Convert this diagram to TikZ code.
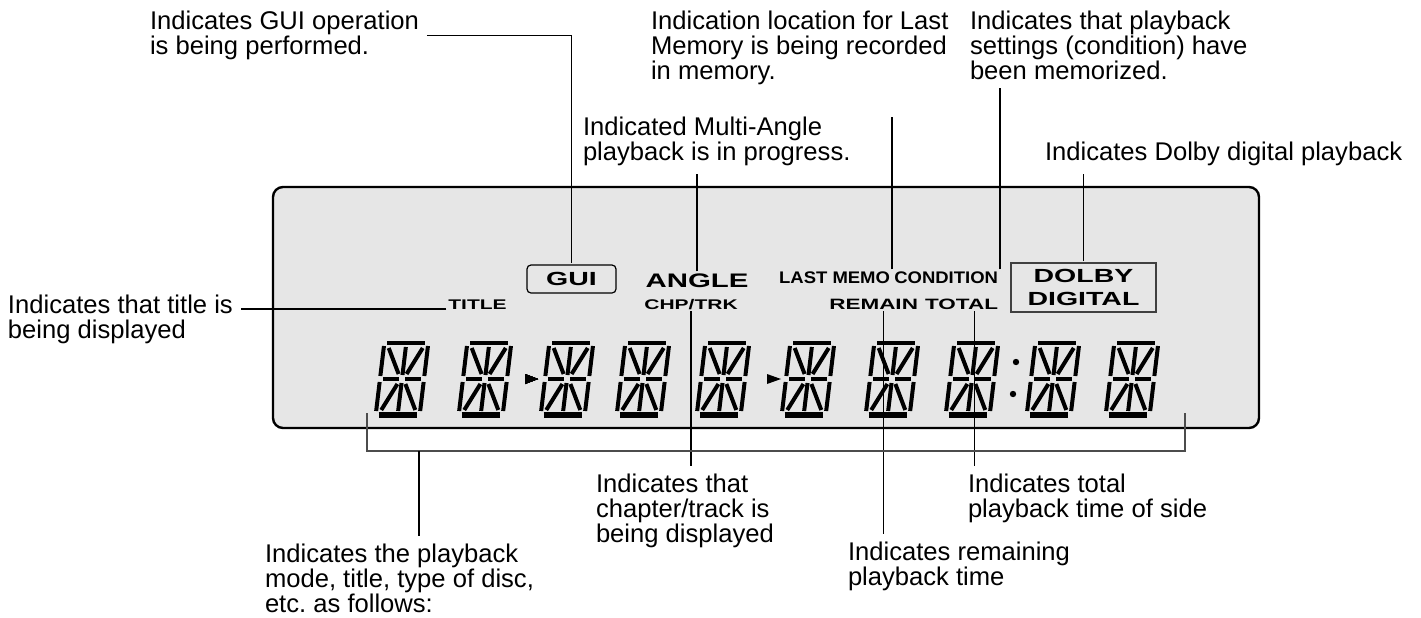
\documentclass[tikz,border=0pt]{standalone}
\usepackage{fontspec}
\setmainfont{Liberation Sans}
\newfontfamily\lcdlat{Liberation Sans}[FakeStretch=1.5]
\newfontfamily\lcdnorm{Liberation Sans}[FakeStretch=1.1]
\definecolor{lcdbg}{HTML}{E6E6E6}

\begin{document}
\begin{tikzpicture}[
  x=0.5pt, y=-0.5pt,
  font=\fontsize{12.8}{12.5}\selectfont,
  lead/.style={line width=0.6pt},
  brk/.style={line width=0.9pt,black!70},
  seg/.style={line width=2pt},
  lbl/.style={anchor=north west,align=left,inner sep=0pt,outer sep=4pt},
  ind/.style={inner sep=0pt,outer sep=1pt},
  lat/.style={ind,font=\lcdlat\bfseries\fontsize{#1}{#1}\selectfont}
]
\useasboundingbox (0,0) rectangle (1421,617);

% parametri afisaj (unitati = pixeli din imagine)
\def\cy{379}     % linia de centru a cifrelor

% --- macro pentru o cifra cu 16 segmente, inclinata ---
% #1 = x centru
\newcommand{\lcdcifra}[1]{
  \begin{scope}[shift={(#1,\cy)},xslant=0.12]
    \foreach \xa/\ya/\xb/\yb in {-19/-36/19/-36, -22/-33/-22/-3, -22/3/-22/32,
        22/-33/22/-3, 22/3/22/32, -19/0/-3/0, 3/0/19/0, 0/-32/0/-4, 0/4/0/32,
        -17/-31/-4/-5, 17/-31/4/-5, -17/31/-4/5, 17/31/4/5}
      \draw[seg] (\xa,\ya) -- (\xb,\yb);
    \draw[seg,line width=3pt] (-19,35.5) -- (19,35.5);   % bara de jos, mai groasa
  \end{scope}
}

% panoul afisajului
\draw[line width=1.2pt,fill=lcdbg,rounded corners=5pt] (273,187) rectangle (1259,428);

% cifre, sageti si doua puncte
\foreach \cx in {402,485,567,643,723,808,892,972,1053,1132}
  \lcdcifra{\cx}
\fill (525,374) -- (538,379) -- (525,384) -- cycle;
\fill (767,374) -- (781,379) -- (767,384) -- cycle;
\fill (1016,362) circle[radius=1.6pt];
\fill (1013,394) circle[radius=1.6pt];

% indicatori pe afisaj
\node[lat=9.5,draw,line width=0.6pt,rounded corners=2pt,minimum width=44.5pt,minimum height=14pt] (gui) at (571.5,279) {GUI};
\node[lat=9.8,anchor=base] (angle) at (697,287) {ANGLE};
\node[lat=7,anchor=base] (title) at (477.5,309) {TITLE};
\node[lat=7,anchor=base] (chp) at (691,309) {CHP/TRK};
\node[ind,font=\lcdnorm\bfseries\fontsize{8.4}{8.4}\selectfont,anchor=base east] (memo) at (892,283) {LAST MEMO};
\node[ind,font=\lcdnorm\bfseries\fontsize{8.4}{8.4}\selectfont,anchor=base east] (cond) at (1000,283) {CONDITION};
\node[lat=7.5,anchor=base east] (rem) at (920,309) {REMAIN};
\node[lat=7.5,anchor=base east] (tot) at (1000,309) {TOTAL};
\node[ind,font=\lcdlat\bfseries\fontsize{9.5}{11.5}\selectfont,draw=black!75,line width=0.7pt,align=center,
      minimum width=72.5pt,minimum height=24.5pt] (dolby) at (1083.5,287.5) {DOLBY\\DIGITAL};

% etichete explicative
\node[lbl] (lgui) at (142,3) {Indicates GUI operation\\is being performed.};
\node[lbl] (lmemo) at (643,3) {Indication location for Last\\Memory is being recorded\\in memory.};
\node[lbl] (lcond) at (962,3) {Indicates that playback\\settings (condition) have\\been memorized.};
\node[lbl] (lmulti) at (575,109) {Indicated Multi-Angle\\playback is in progress.};
\node[lbl] (ldolby) at (1037,134) {Indicates Dolby digital playback};
\node[lbl] (ltitle) at (0,287) {Indicates that title is\\being displayed};
\node[lbl] (lchp) at (588,466) {Indicates that\\chapter/track is\\being displayed};
\node[lbl] (ltot) at (960,466) {Indicates total\\playback time of side};
\node[lbl] (lrem) at (840,534) {Indicates remaining\\playback time};
\node[lbl] (lplay) at (257,536) {Indicates the playback\\mode, title, type of disc,\\etc.\ as follows:};

% linii de legatura
\draw[lead] (lgui.east) -| (gui.north);
\draw[lead] (angle.north) -- (angle.north |- lmulti.south);
\draw[lead,shorten >=12pt] (memo.north east) -- (memo.north east |- lmemo.south);
\draw[lead] (cond.north east) -- (cond.north east |- lcond.south);
\draw[lead] (dolby.north) -- (dolby.north |- ldolby.south);
\draw[lead] (title.base west) -- (title.base west -| ltitle.east);
\draw[lead] (chp.south) -- (chp.south |- lchp.north);
\coordinate (prem) at ([xshift=4.75pt]rem.south);
\coordinate (ptot) at ([xshift=6.5pt]tot.south);
\draw[lead] (prem) -- (prem |- lrem.north);
\draw[lead] (ptot) -- (ptot |- ltot.north);

% acolada de sub cifre
\coordinate (bl) at (367,413);
\coordinate (br) at (1185,413);
\coordinate (bm) at (419,451);
\draw[brk] (bl) |- (bm) -| (br);
\draw[lead] (bm) -- (bm |- lplay.north);

\end{tikzpicture}
\end{document}
